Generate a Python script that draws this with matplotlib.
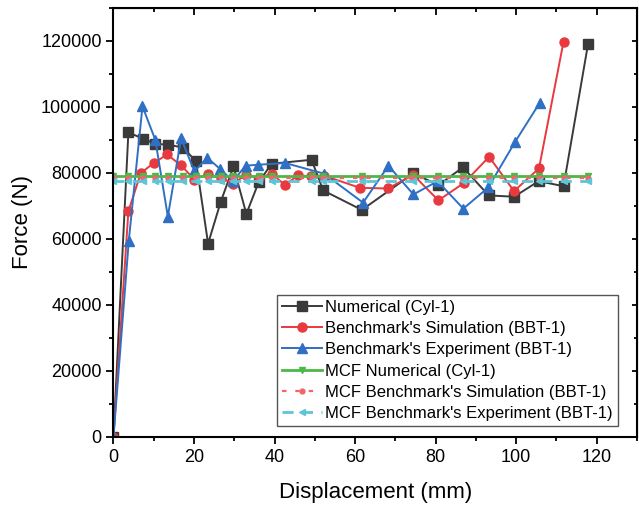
import matplotlib

matplotlib.use("Agg")
import matplotlib.pyplot as plt
from matplotlib.ticker import MultipleLocator

plt.rcParams["font.family"] = ["Liberation Sans", "DejaVu Sans"]

# Numerical (Cyl-1)
num_x = [0, 3.7, 7.3, 10.4, 13.5, 17.3, 20.5, 23.5, 26.6, 29.8, 33.0, 36.1, 39.3,
         49.2, 52.1, 61.7, 74.5, 80.7, 86.8, 93.2, 99.5, 105.6, 111.8, 117.9]
num_y = [0, 92300, 90400, 88800, 88600, 87700, 83500, 58600, 71100, 82000, 67600,
         77300, 82800, 84000, 74700, 68800, 79900, 76300, 81700, 73200, 72800,
         77500, 76000, 119200]

# Benchmark's Simulation (BBT-1)
sim_x = [0, 3.7, 6.8, 10.0, 13.3, 16.8, 20.1, 23.4, 26.6, 29.8, 32.9, 36.1, 39.3,
         42.6, 45.8, 49.0, 52.3, 61.2, 68.1, 74.5, 80.7, 87.1, 93.3, 99.5, 105.7, 111.8]
sim_y = [0, 68400, 80000, 83000, 85600, 82300, 78000, 79700, 78500, 76800, 79500,
         78500, 79800, 76300, 79300, 79000, 79200, 75500, 75300, 79400, 71700,
         77000, 84900, 74500, 81400, 119800]

# Benchmark's Experiment (BBT-1)
exp_x = [0, 3.8, 7.2, 10.4, 13.5, 16.8, 20.1, 23.3, 26.5, 29.7, 32.8, 36.0, 42.7,
         52.3, 62.0, 68.3, 74.5, 80.5, 86.9, 93.1, 99.7, 105.9]
exp_y = [0, 59500, 100200, 90000, 66800, 90500, 80500, 84600, 81200, 77500, 82200,
         82500, 83000, 79800, 71000, 82200, 73500, 77500, 69200, 75600, 89300, 101300]

# mean crushing forces
mcf_num = 79100
mcf_sim = 78600
mcf_exp = 77600

fig = plt.figure(figsize=(6.39, 5.08), dpi=100)
ax = fig.add_axes([0.1776, 0.1398, 0.819, 0.8445])

ax.plot(num_x, num_y, color="#3a3a3a", lw=1.4, marker="s", ms=6.5,
        label="Numerical (Cyl-1)")
ax.plot(sim_x, sim_y, color="#e8393e", lw=1.4, marker="o", ms=6.5,
        label="Benchmark's Simulation (BBT-1)")
ax.plot(exp_x, exp_y, color="#2f6fc4", lw=1.4, marker="^", ms=7.5,
        label="Benchmark's Experiment (BBT-1)")

ax.plot(num_x, [mcf_num] * len(num_x), color="#4cb848", lw=2.0, marker="v", ms=4,
        label="MCF Numerical (Cyl-1)")
ax.plot(num_x, [mcf_sim] * len(num_x), color="#f0666a", lw=1.6, ls=(0, (2, 4)),
        marker="o", ms=3.5, label="MCF Benchmark's Simulation (BBT-1)")
ax.plot(num_x, [mcf_exp] * len(num_x), color="#5cc6d6", lw=2.0, ls=(0, (4, 3)),
        marker="<", ms=5, label="MCF Benchmark's Experiment (BBT-1)")

ax.set_xlim(0, 130)
ax.set_ylim(0, 130000)
ax.xaxis.set_major_locator(MultipleLocator(20))
ax.xaxis.set_minor_locator(MultipleLocator(10))
ax.yaxis.set_major_locator(MultipleLocator(20000))
ax.yaxis.set_minor_locator(MultipleLocator(10000))
ax.tick_params(which="both", direction="out", labelsize=13, width=1.3)
ax.tick_params(which="major", length=5)
ax.tick_params(which="minor", length=3)
for sp in ax.spines.values():
    sp.set_linewidth(1.5)

top = ax.secondary_xaxis("top")
top.xaxis.set_major_locator(MultipleLocator(20))
top.xaxis.set_minor_locator(MultipleLocator(10))
top.tick_params(which="both", direction="in", labeltop=False, width=1.3)
top.tick_params(which="major", length=5)
top.tick_params(which="minor", length=3)
right = ax.secondary_yaxis("right")
right.yaxis.set_major_locator(MultipleLocator(20000))
right.yaxis.set_minor_locator(MultipleLocator(10000))
right.tick_params(which="both", direction="in", labelright=False, width=1.3)

ax.set_xlabel("Displacement (mm)", fontsize=16, labelpad=12)
ax.set_ylabel("Force (N)", fontsize=16, labelpad=6)

ax.legend(loc="lower left", bbox_to_anchor=(0.312, 0.025), fontsize=12,
          frameon=True, fancybox=False, edgecolor="#555555", framealpha=1,
          handlelength=2.4, labelspacing=0.38, borderpad=0.3, handletextpad=0.2,
          borderaxespad=0)

fig.savefig("out.png", dpi=100)
